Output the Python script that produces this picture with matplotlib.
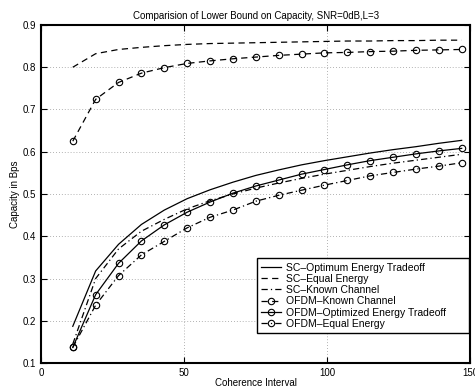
import numpy as np
import matplotlib
matplotlib.use("Agg")
import matplotlib.pyplot as plt

plt.rcParams['font.family'] = ['Liberation Sans', 'DejaVu Sans']

# coherence interval samples
x = np.arange(11, 148, 8)

sc_opt = [0.187, 0.318, 0.381, 0.428, 0.462, 0.489, 0.510, 0.528, 0.544,
          0.557, 0.569, 0.579, 0.588, 0.597, 0.605, 0.612, 0.620, 0.627]
sc_equal = [0.800, 0.832, 0.842, 0.847, 0.851, 0.854, 0.856, 0.857, 0.858,
            0.859, 0.860, 0.861, 0.862, 0.862, 0.863, 0.863, 0.864, 0.864]
sc_known = [0.145, 0.300, 0.370, 0.412, 0.440, 0.465, 0.484, 0.500, 0.514,
            0.526, 0.537, 0.547, 0.556, 0.565, 0.573, 0.580, 0.587, 0.594]
ofdm_known = [0.625, 0.724, 0.764, 0.786, 0.799, 0.809, 0.815, 0.820, 0.824,
              0.828, 0.831, 0.834, 0.835, 0.837, 0.838, 0.840, 0.841, 0.842]
ofdm_opt = [0.137, 0.262, 0.336, 0.389, 0.427, 0.457, 0.481, 0.502, 0.519,
            0.533, 0.547, 0.558, 0.569, 0.579, 0.587, 0.595, 0.602, 0.608]
ofdm_equal = [0.137, 0.237, 0.307, 0.356, 0.388, 0.420, 0.445, 0.462, 0.483,
              0.497, 0.509, 0.521, 0.532, 0.543, 0.551, 0.559, 0.566, 0.574]

fig = plt.figure(figsize=(4.75, 3.9), dpi=100)
ax = fig.add_axes([0.087, 0.069, 0.903, 0.867])

dash = (0, (5, 3.5))
dashdot = (0, (5, 2.5, 1, 2.5))
mk = dict(marker='o', markersize=4.6, fillstyle='none', markeredgewidth=0.8)

ax.plot(x, sc_opt, color='k', lw=0.9, ls='-', label='SC\u2013Optimum Energy Tradeoff')
ax.plot(x, sc_equal, color='k', lw=0.9, ls=dash, label='SC\u2013Equal Energy')
ax.plot(x, sc_known, color='k', lw=0.9, ls=dashdot, label='SC\u2013Known Channel')
ax.plot(x, ofdm_known, color='k', lw=0.9, ls=dash, label='OFDM\u2013Known Channel', **mk)
ax.plot(x, ofdm_opt, color='k', lw=0.9, ls='-', label='OFDM\u2013Optimized Energy Tradeoff', **mk)
ax.plot(x, ofdm_equal, color='k', lw=0.9, ls=dashdot, label='OFDM\u2013Equal Energy', **mk)

ax.set_xlim(0, 150)
ax.set_ylim(0.1, 0.9)
ax.set_xticks([0, 50, 100, 150])
ax.set_yticks(np.arange(0.1, 0.91, 0.1))
ax.set_yticklabels(['0.1', '0.2', '0.3', '0.4', '0.5', '0.6', '0.7', '0.8', '0.9'])
ax.tick_params(direction='in', labelsize=7, length=4, width=0.8, top=True, right=True)
ax.grid(True, ls=(0, (1, 2.5)), color='0.6', lw=0.6)
for s in ax.spines.values():
    s.set_linewidth(1.5)

ax.set_xlabel('Coherence Interval', fontsize=7, labelpad=0)
ax.set_ylabel('Capacity in Bps', fontsize=7, labelpad=2)
ax.set_title('Comparision of Lower Bound on Capacity, SNR=0dB,L=3', fontsize=7, pad=4)

leg = ax.legend(loc='lower left', bbox_to_anchor=(0.5035, 0.089, 0.494, 0.2),
                mode='expand', fontsize=7.5,
                frameon=True, fancybox=False, edgecolor='k', framealpha=1,
                handlelength=1.9, borderpad=0.4, labelspacing=0.12,
                handletextpad=0.5, borderaxespad=0)
leg.get_frame().set_linewidth(1.0)

fig.savefig('out.png', dpi=100)
